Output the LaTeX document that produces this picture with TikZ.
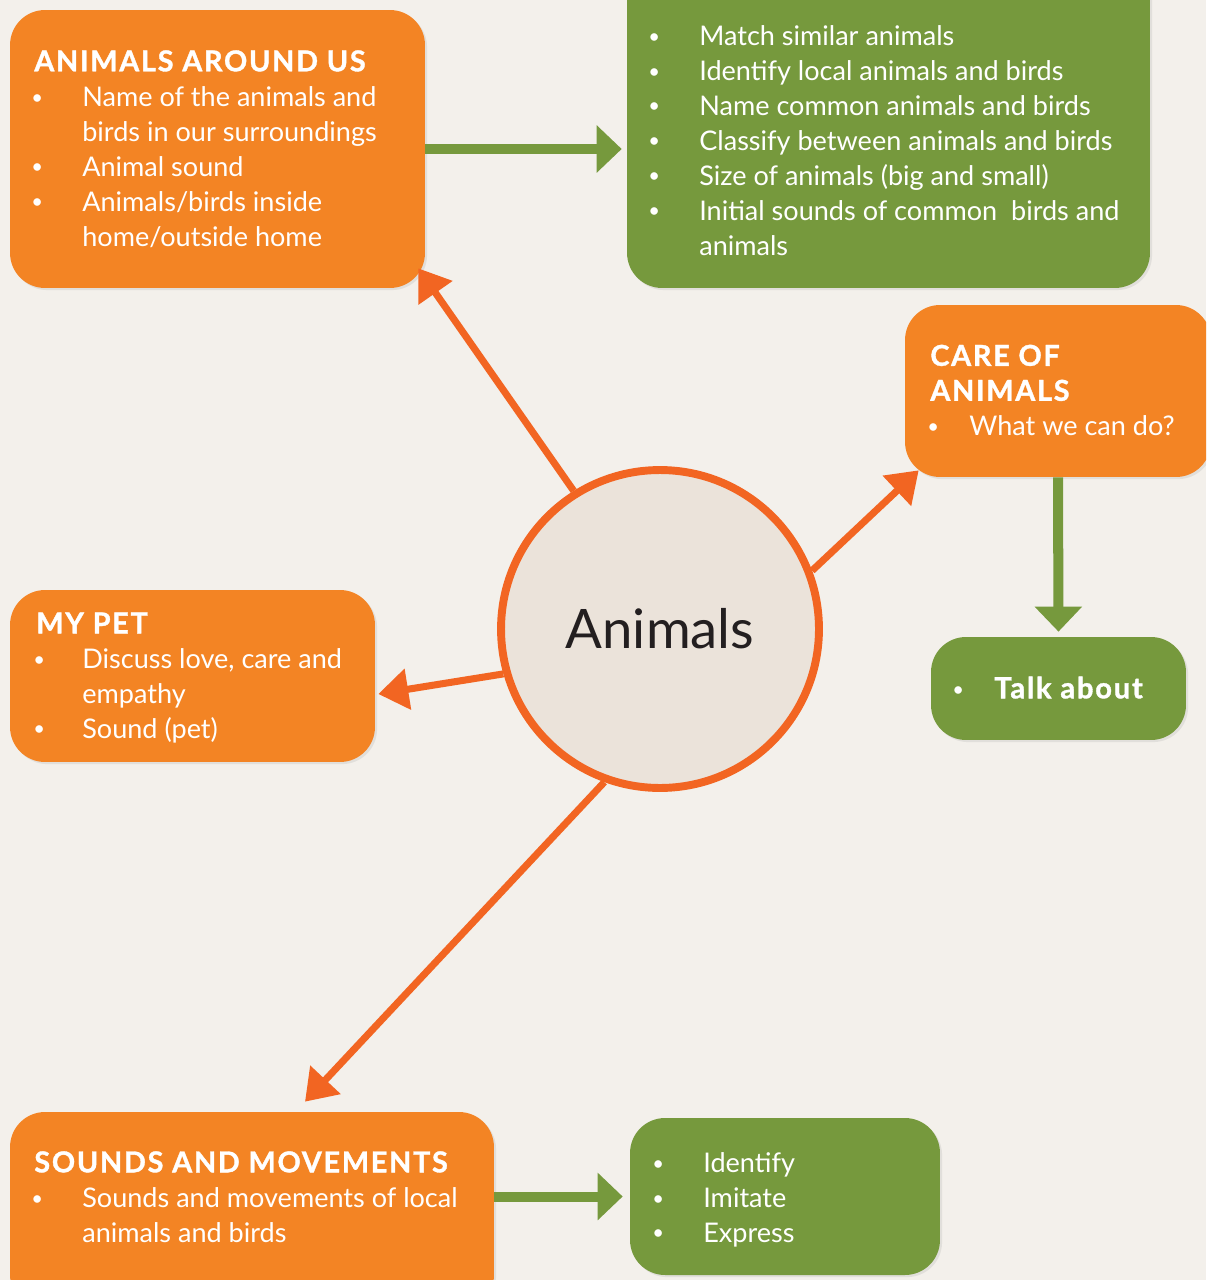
\documentclass[tikz,border=0pt]{standalone}
\usepackage{fontspec}
\setmainfont{Lato}
\newfontfamily\titlefont{Lato}[LetterSpace=6, FakeBold=1.2]
\usetikzlibrary{arrows.meta,calc,positioning,shadows}

\definecolor{bgcream}{HTML}{F3F0EB}
\definecolor{boxorange}{HTML}{F38424}
\definecolor{arroworange}{HTML}{F26522}
\definecolor{leafgreen}{HTML}{76993D}
\definecolor{hubfill}{HTML}{EBE3DA}
\definecolor{inkdark}{HTML}{231F20}

\newcommand{\bul}{\hspace*{-0.06cm}\raisebox{1.3pt}{\fontsize{11.5}{11.5}\selectfont\textbullet}}
\newcommand{\boxtitle}[1]{\multicolumn{2}{@{}l@{}}{\titlefont\bfseries\fontsize{16.4}{19.9}\selectfont #1}}

\tikzset{
  softshadow/.style={drop shadow={opacity=0.15, shadow xshift=1.2pt, shadow yshift=-1.2pt}},
  obox/.style={rectangle, rounded corners=0.7cm, fill=boxorange, inner sep=0pt, softshadow},
  gbox/.style={rectangle, rounded corners=0.7cm, fill=leafgreen, inner sep=0pt, softshadow},
  txt/.style={anchor=north west, inner sep=0pt, text=white, font=\fontsize{15.4}{19.9}\selectfont},
  hub/.style={circle, draw=arroworange, line width=4.5pt, fill=hubfill, minimum size=6.36cm,
    text=inkdark, font=\fontsize{31}{37}\selectfont},
  spoke/.style={draw=arroworange, line width=4pt, -{Triangle[length=0.6cm,width=0.8cm]}},
  link/.style={draw=leafgreen, line width=5.7pt, -{Triangle[length=0.5cm,width=0.92cm]}}
}

\begin{document}
\begin{tikzpicture}[x=0.02cm, y=-0.02cm]
\clip (0,0) rectangle (1206,1280);
\fill[bgcream] (0,0) rectangle (1206,1280);

% boxes
\node[obox, minimum width=8.3cm, minimum height=5.56cm] (around) at (217.5,149) {};
\node[gbox, minimum width=10.46cm, minimum height=6.56cm] (goals) at (888.5,124) {};
\node[obox, minimum width=6.12cm, minimum height=3.44cm] (care) at (1058,391) {};
\node[gbox, minimum width=5.1cm, minimum height=2.06cm] (talk) at (1058.5,688.5) {};
\node[obox, minimum width=7.3cm, minimum height=3.44cm] (pet) at (192.5,676) {};
\node[obox, minimum width=9.68cm, minimum height=3.96cm] (sound) at (252,1211) {};
\node[gbox, minimum width=6.2cm, minimum height=3.14cm] (skills) at (785,1196.5) {};

\node[hub] (hub) at (660,629) {Animals};

% texts
\node[txt] (aroundtxt) at (34,46.5) {\begin{tabular}{@{}p{0.96cm}@{}l@{}}
  \boxtitle{ANIMALS AROUND US}\\
  \bul & Name of the animals and\\
       & birds in our surroundings\\
  \bul & Animal sound\\
  \bul & Animals/birds inside\\
       & home/outside home
\end{tabular}};
\node[txt] (goalstxt) at (651,20.5) {\begin{tabular}{@{}p{0.96cm}@{}l@{}}
  \bul & Match similar animals\\
  \bul & Identify local animals and birds\\
  \bul & Name common animals and birds\\
  \bul & Classify between animals and birds\\
  \bul & Size of animals (big and small)\\
  \bul & Initial sounds of common\ \ birds and\\
       & animals
\end{tabular}};
\node[txt] (caretxt) at (930,341) {\begin{tabular}{@{}p{0.78cm}@{}l@{}}
  \boxtitle{CARE OF}\\
  \boxtitle{ANIMALS}\\
  \bul & What we can do?
\end{tabular}};
\node[txt] (talktxt) at (955,673.5) {\begin{tabular}{@{}p{0.78cm}@{}l@{}}
  \bul & \titlefont\bfseries\fontsize{16.6}{19.9}\selectfont Talk about
\end{tabular}};
\node[txt] (pettxt) at (36,608.5) {\begin{tabular}{@{}p{0.92cm}@{}l@{}}
  \boxtitle{MY PET}\\
  \bul & Discuss love, care and\\
       & empathy\\
  \bul & Sound (pet)
\end{tabular}};
\node[txt] (soundtxt) at (34,1147.5) {\begin{tabular}{@{}p{0.96cm}@{}l@{}}
  \boxtitle{SOUNDS AND MOVEMENTS}\\
  \bul & Sounds and movements of local\\
       & animals and birds
\end{tabular}};
\node[txt] (skillstxt) at (655,1147.5) {\begin{tabular}{@{}p{0.96cm}@{}l@{}}
  \bul & Identify\\
  \bul & Imitate\\
  \bul & Express
\end{tabular}};

% spokes from the hub
\draw[spoke] (hub.122) -- ($(around.south east)+(-7,-20)$);
\draw[spoke] (hub.21.5) -- ($(care.south west)+(14,-7)$);
\draw[spoke] (hub.196.7) -- ($(pet.east)+(3,18)$);
\draw[spoke] (hub.250.6) -- ($(sound.north)+(53,-10)$);

% green links
\draw[link, shorten >=0.1cm] (around.east) -- (around.east -| goals.west);
\draw[link, shorten >=0.1cm] (care.south) -- (talk.north);
\draw[link, shorten >=0.14cm] (sound.east |- skills.west) -- (skills.west);
\end{tikzpicture}
\end{document}
